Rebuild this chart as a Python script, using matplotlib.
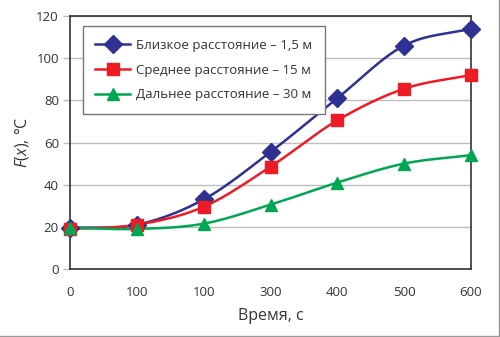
import numpy as np
import matplotlib
matplotlib.use("Agg")
import matplotlib.pyplot as plt
from matplotlib.lines import Line2D

plt.rcParams['font.family'] = ['Open Sans', 'DejaVu Sans']
plt.rcParams['mathtext.fontset'] = 'custom'
plt.rcParams['mathtext.rm'] = 'Open Sans'
plt.rcParams['mathtext.it'] = 'Open Sans:italic'

x_pos = [0, 100, 200, 300, 400, 500, 600]
x_labels = ['0', '100', '100', '300', '400', '500', '600']
near = [19.5, 21, 33, 55.5, 81, 106, 114]
mid = [19, 21, 29.5, 48.5, 70.5, 85.5, 92]
far = [19.5, 19, 21.5, 30.5, 41, 50, 54]
labels = ['Близкое расстояние – 1,5 м', 'Среднее расстояние – 15 м', 'Дальнее расстояние – 30 м']
colors = ['#2E3192', '#ED1C24', '#00A651']
markers = ['D', 's', '^']
msizes = [9, 8.5, 9]


def smooth(xs, ys, n=30):
    xs = np.asarray(xs, float); ys = np.asarray(ys, float)
    P = np.column_stack([xs, ys])
    P = np.vstack([P[0] - (P[1] - P[0]), P, P[-1] + (P[-1] - P[-2])])
    out = []
    for i in range(1, len(P) - 2):
        p0, p1, p2, p3 = P[i-1], P[i], P[i+1], P[i+2]
        t = np.linspace(0, 1, n)[:, None]
        c = 0.5 * ((2*p1) + (-p0 + p2)*t + (2*p0 - 5*p1 + 4*p2 - p3)*t**2 + (-p0 + 3*p1 - 3*p2 + p3)*t**3)
        out.append(c)
    c = np.vstack(out)
    return c[:, 0], c[:, 1]


fig = plt.figure(figsize=(5, 3.37), dpi=100)
ax = fig.add_axes([0.14, 0.2018, 0.802, 0.7507])

handles = []
for ys, col, mk, ms, lab in zip([near, mid, far], colors, markers, msizes, labels):
    sx, sy = smooth(x_pos, ys)
    ax.plot(sx, sy, color=col, lw=1.8, zorder=3)
    ax.plot(x_pos, ys, linestyle='none', marker=mk, color=col, markersize=ms, zorder=4, clip_on=False)
    handles.append(Line2D([], [], color=col, lw=1.8, marker=mk, markersize=ms, label=lab))

ax.set_xlim(0, 600)
ax.set_ylim(0, 120)
ax.set_xticks(x_pos)
ax.set_xticklabels(x_labels)
ax.set_yticks(range(0, 121, 20))
ax.yaxis.grid(True, color='#BDBDBD', lw=1)
ax.set_axisbelow(True)
ax.tick_params(axis='x', length=0, pad=12, labelsize=9.5, colors='#333333')
ax.tick_params(axis='y', length=5, width=1, color='#BDBDBD', pad=3, labelsize=9.5, labelcolor='#333333')
for s in ax.spines.values():
    s.set_color('#333333')
    s.set_linewidth(1.2)

ax.set_xlabel('Время, с', fontsize=11.5, color='#333333', labelpad=7)
ax.set_ylabel('$F(x)$, °C', fontsize=11.5, color='#333333', labelpad=4)

leg = ax.legend(handles=handles, loc='upper left', bbox_to_anchor=(0.032, 0.96), fontsize=9.5,
                frameon=True, fancybox=False, edgecolor='#777777', framealpha=1,
                handlelength=2.6, handletextpad=0.5, borderpad=0.95, labelspacing=0.9,
                borderaxespad=0)
leg.get_frame().set_linewidth(1)
for t in leg.get_texts():
    t.set_color('#333333')

# outer border lines (bottom and right)
fig.add_artist(Line2D([0, 1], [0.004, 0.004], transform=fig.transFigure, color='#999999', lw=1))
fig.add_artist(Line2D([0.997, 0.997], [0, 1], transform=fig.transFigure, color='#999999', lw=1))

fig.savefig('out.png', dpi=100)
